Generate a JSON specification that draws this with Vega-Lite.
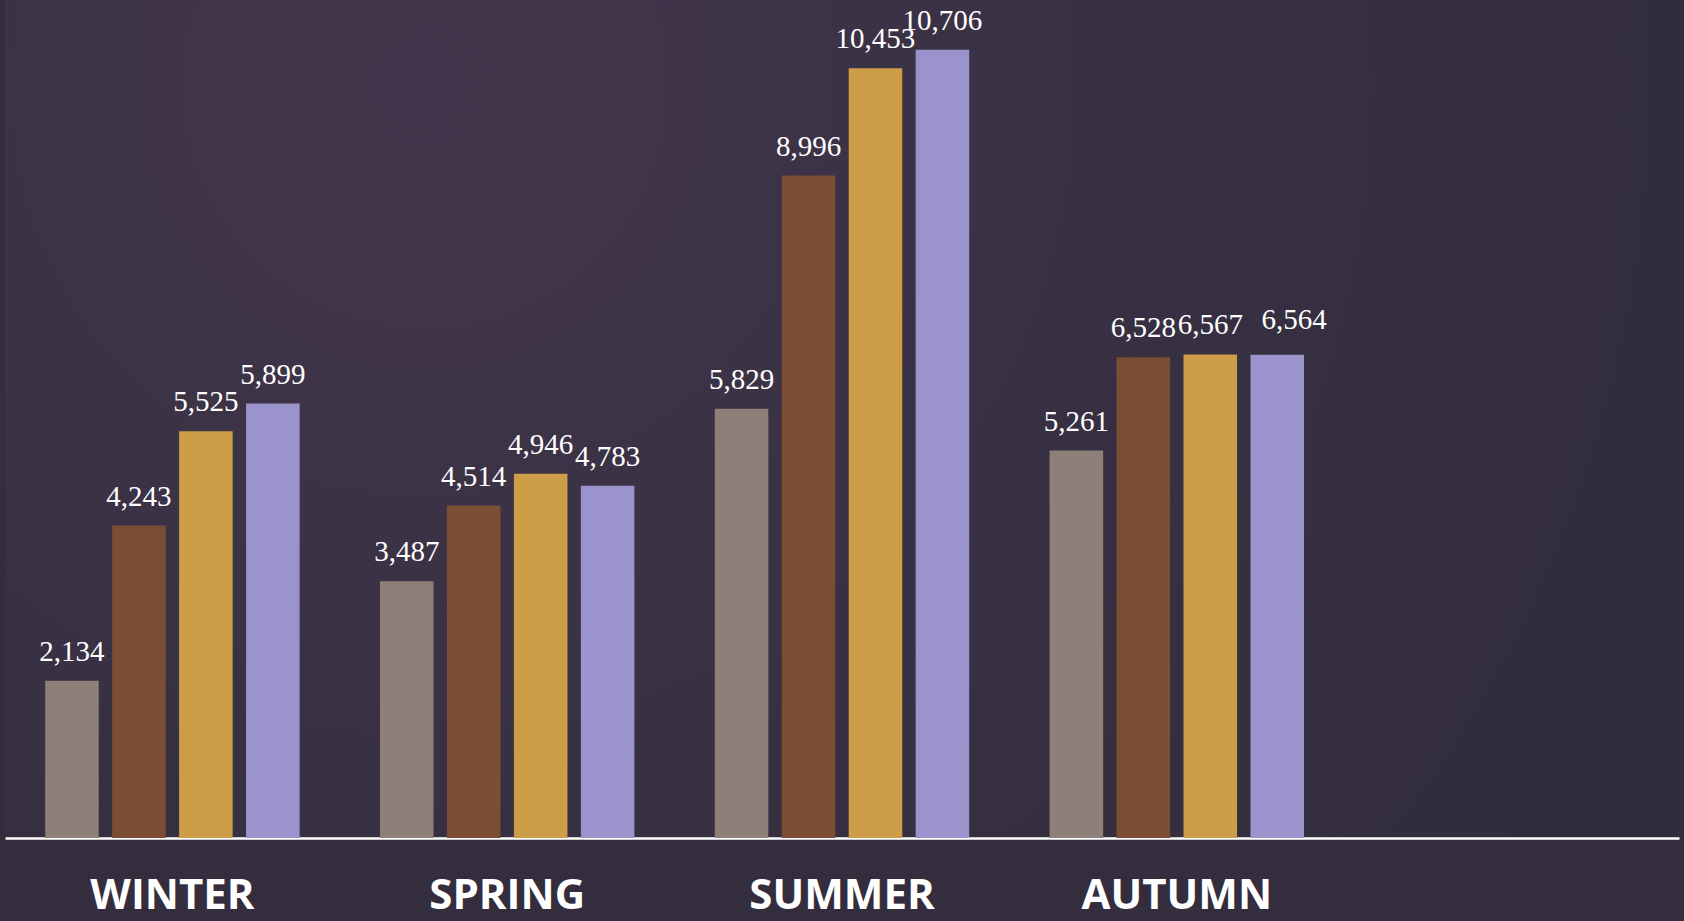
{
  "$schema": "https://vega.github.io/schema/vega-lite/v6.json",
  "width": 1674,
  "height": 838,
  "autosize": "none",
  "padding": {"left": 5, "top": 0, "right": 5, "bottom": 83},
  "background": "#332d3d",
  "config": {
    "view": {
      "stroke": null,
      "fill": {
        "gradient": "radial",
        "x1": 0.25, "y1": 0.3, "r1": 0,
        "x2": 0.25, "y2": 0.3, "r2": 0.9,
        "stops": [
          {"offset": 0, "color": "#43364c"},
          {"offset": 0.5, "color": "#373042"},
          {"offset": 1, "color": "#302c3a"}
        ]
      }
    }
  },
  "data": {
    "values": [
      {"season": "WINTER", "series": "S1", "value": 2134},
      {"season": "WINTER", "series": "S2", "value": 4243},
      {"season": "WINTER", "series": "S3", "value": 5525},
      {"season": "WINTER", "series": "S4", "value": 5899},
      {"season": "SPRING", "series": "S1", "value": 3487},
      {"season": "SPRING", "series": "S2", "value": 4514},
      {"season": "SPRING", "series": "S3", "value": 4946},
      {"season": "SPRING", "series": "S4", "value": 4783},
      {"season": "SUMMER", "series": "S1", "value": 5829},
      {"season": "SUMMER", "series": "S2", "value": 8996},
      {"season": "SUMMER", "series": "S3", "value": 10453},
      {"season": "SUMMER", "series": "S4", "value": 10706},
      {"season": "AUTUMN", "series": "S1", "value": 5261},
      {"season": "AUTUMN", "series": "S2", "value": 6528},
      {"season": "AUTUMN", "series": "S3", "value": 6567},
      {"season": "AUTUMN", "series": "S4", "value": 6564}
    ]
  },
  "encoding": {
    "x": {
      "field": "season",
      "type": "nominal",
      "sort": null,
      "scale": {"domain": ["WINTER", "SPRING", "SUMMER", "AUTUMN", " "], "paddingInner": 0.2, "paddingOuter": 0.1},
      "axis": {
        "title": null,
        "labelAngle": 0,
        "ticks": false,
        "tickSize": 0,
        "domainColor": "#ffffff",
        "domainWidth": 2.5,
        "labelColor": "#ffffff",
        "labelFont": "Open Sans",
        "labelFontWeight": "bold",
        "labelFontSize": 42,
        "labelLimit": 0,
        "labelBaseline": "alphabetic",
        "labelPadding": 70
      }
    },
    "xOffset": {
      "field": "series",
      "type": "nominal",
      "scale": {"paddingInner": 0.2, "paddingOuter": 0.1}
    },
    "y": {
      "field": "value",
      "type": "quantitative",
      "scale": {"domain": [0, 11380], "nice": false},
      "axis": null
    }
  },
  "layer": [
    {
      "mark": {"type": "bar"},
      "encoding": {
        "color": {
          "field": "series",
          "type": "nominal",
          "scale": {"domain": ["S1", "S2", "S3", "S4"], "range": ["#8e8078", "#7b4d33", "#cd9d48", "#9b93cb"]},
          "legend": null
        }
      }
    },
    {
      "transform": [{"filter": "!(datum.season == 'AUTUMN' && datum.series == 'S4')"}],
      "mark": {"type": "text", "baseline": "alphabetic", "dy": -20, "font": "Liberation Serif", "fontSize": 29, "color": "#ffffff"},
      "encoding": {"text": {"field": "value", "type": "quantitative", "format": ","}}
    },
    {
      "transform": [{"filter": "datum.season == 'AUTUMN' && datum.series == 'S4'"}],
      "mark": {"type": "text", "baseline": "alphabetic", "dy": -26, "dx": 17, "font": "Liberation Serif", "fontSize": 29, "color": "#ffffff"},
      "encoding": {"text": {"field": "value", "type": "quantitative", "format": ","}}
    }
  ]
}
